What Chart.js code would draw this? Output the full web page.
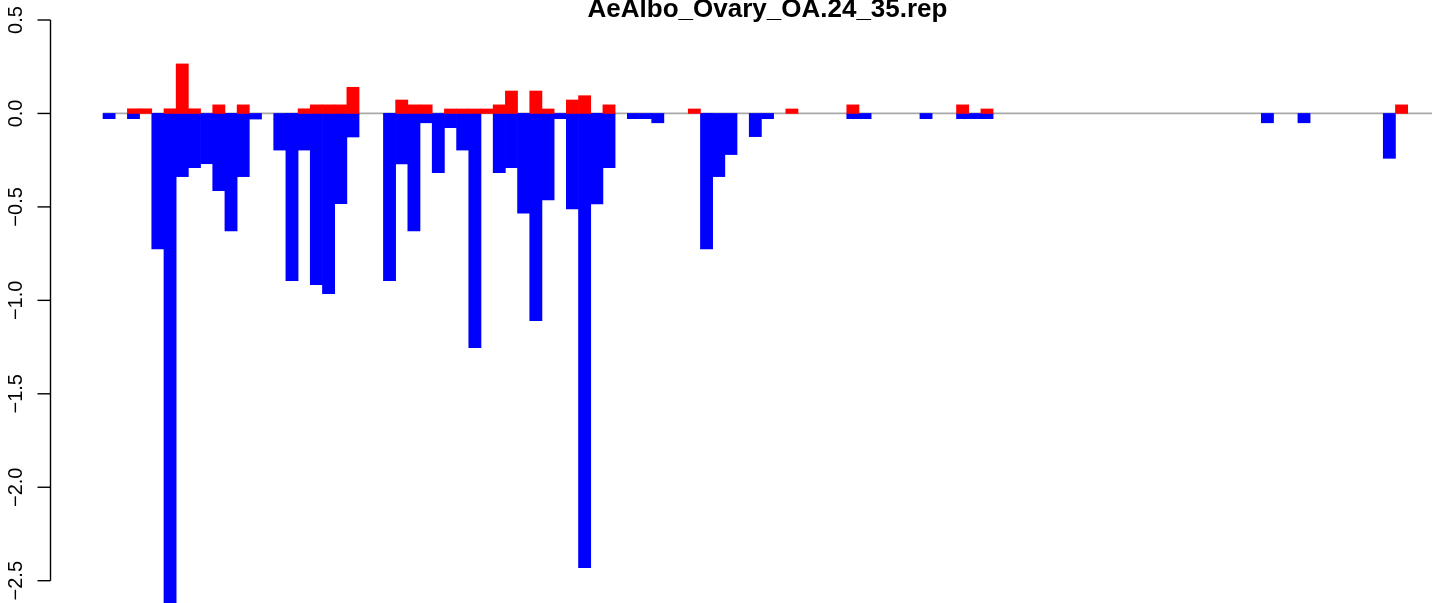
<!DOCTYPE html>
<html>
<head>
<meta charset="utf-8">
<script src="https://cdn.jsdelivr.net/npm/chart.js@4/dist/chart.umd.min.js"></script>
<style>
  html, body { margin: 0; padding: 0; background: #ffffff; overflow: hidden; }
  #c { display: block; }
</style>
</head>
<body>
<canvas id="c" width="1441" height="603"></canvas>
<script>
// ---- data ----
const chartTitle = "AeAlbo_Ovary_OA.24_35.rep";
const barCount = 109;                       // bar slots 0..108
const yTickValues = [0.5, 0.0, -0.5, -1.0, -1.5, -2.0, -2.5];
const yTickLabels = ["0.5", "0.0", "\u22120.5", "\u22121.0", "\u22121.5", "\u22122.0", "\u22122.5"];

// positive (red) values by slot index
const redIndex  = [2, 3, 5, 6, 7, 9, 11, 16, 17, 18, 19, 20, 24, 25, 26, 28, 29, 30, 31, 32, 33, 35, 36, 38, 39, 41, 48, 56, 61, 70, 72, 106];
const redValues = [0.025, 0.025, 0.025, 0.265, 0.025, 0.046, 0.046, 0.025, 0.046, 0.046, 0.046, 0.14, 0.072, 0.046, 0.046, 0.024, 0.024, 0.024, 0.024, 0.046, 0.12, 0.12, 0.024, 0.072, 0.095, 0.046, 0.024, 0.024, 0.046, 0.046, 0.024, 0.046];

// negative (blue) values by slot index
const blueIndex  = [0, 2, 4, 5, 6, 7, 8, 9, 10, 11, 12, 14, 15, 16, 17, 18, 19, 20, 23, 24, 25, 26, 27, 28, 29, 30, 32, 33, 34, 35, 36, 37, 38, 39, 40, 41, 43, 44, 45, 49, 50, 51, 53, 54, 61, 62, 67, 70, 71, 72, 95, 98, 105];
const blueValues = [-0.028, -0.028, -0.725, -2.62, -0.338, -0.29, -0.269, -0.413, -0.629, -0.338, -0.03, -0.196, -0.895, -0.196, -0.916, -0.964, -0.483, -0.126, -0.895, -0.27, -0.629, -0.05, -0.317, -0.076, -0.196, -1.253, -0.317, -0.29, -0.533, -1.109, -0.463, -0.028, -0.511, -2.43, -0.484, -0.29, -0.028, -0.028, -0.05, -0.725, -0.338, -0.22, -0.124, -0.028, -0.028, -0.028, -0.028, -0.028, -0.028, -0.028, -0.05, -0.05, -0.24];

// ---- layout constants ----
const X_MIN = -8.9475, X_MAX = 109.235;   // visible slot range of the cropped plot
const Y_MIN = -2.6193, Y_MAX = 0.60701;
const AXIS_X = 50.5;
const TICK_LEN = 13;

const redData  = redIndex.map((x, k) => ({ x: x, y: redValues[k] }));
const blueData = blueIndex.map((x, k) => ({ x: x, y: blueValues[k] }));

const rPlotDecor = {
  id: 'rPlotDecor',
  beforeDatasetsDraw(chart) {
    const ctx = chart.ctx, xs = chart.scales.x, ys = chart.scales.y;
    const y0 = ys.getPixelForValue(0);
    ctx.save();
    ctx.strokeStyle = '#a9a9a9';
    ctx.lineWidth = 1.8;
    ctx.beginPath();
    ctx.moveTo(xs.getPixelForValue(-0.5), y0);
    ctx.lineTo(xs.getPixelForValue(barCount - 0.5), y0);
    ctx.stroke();
    ctx.restore();
  },
  afterDraw(chart) {
    const ctx = chart.ctx, xs = chart.scales.x, ys = chart.scales.y;
    ctx.save();
    // y axis line
    ctx.strokeStyle = '#000000';
    ctx.lineWidth = 1.4;
    ctx.beginPath();
    ctx.moveTo(AXIS_X, ys.getPixelForValue(yTickValues[0]));
    ctx.lineTo(AXIS_X, ys.getPixelForValue(yTickValues[yTickValues.length - 1]));
    ctx.stroke();
    // ticks + labels
    ctx.fillStyle = '#000000';
    ctx.font = '20px "Liberation Sans", Arial, Helvetica, sans-serif';
    ctx.textAlign = 'center';
    ctx.textBaseline = 'alphabetic';
    yTickValues.forEach((v, k) => {
      const py = ys.getPixelForValue(v);
      ctx.beginPath();
      ctx.moveTo(AXIS_X, py);
      ctx.lineTo(AXIS_X - TICK_LEN, py);
      ctx.stroke();
      ctx.save();
      ctx.translate(21.7, py);
      ctx.rotate(-Math.PI / 2);
      ctx.fillText(yTickLabels[k], 0, 0);
      ctx.restore();
    });
    // title
    ctx.font = 'bold 26px "Liberation Sans", Arial, Helvetica, sans-serif';
    ctx.textAlign = 'center';
    ctx.fillText(chartTitle, xs.getPixelForValue((barCount - 1) / 2), 16.7);
    ctx.restore();
  }
};

new Chart(document.getElementById('c'), {
  type: 'bar',
  data: {
    datasets: [
      { label: 'up', data: redData, backgroundColor: '#ff0000', borderWidth: 0 },
      { label: 'down', data: blueData, backgroundColor: '#0000ff', borderWidth: 0 }
    ]
  },
  options: {
    responsive: false,
    animation: false,
    devicePixelRatio: 1,
    layout: { padding: 0 },
    datasets: { bar: { barPercentage: 1.0, categoryPercentage: 1.0, grouped: false } },
    plugins: { legend: { display: false }, tooltip: { enabled: false }, title: { display: false } },
    scales: {
      x: { type: 'linear', min: X_MIN, max: X_MAX, display: false, offset: false },
      y: { type: 'linear', min: Y_MIN, max: Y_MAX, display: false }
    }
  },
  plugins: [rPlotDecor]
});
</script>
</body>
</html>
